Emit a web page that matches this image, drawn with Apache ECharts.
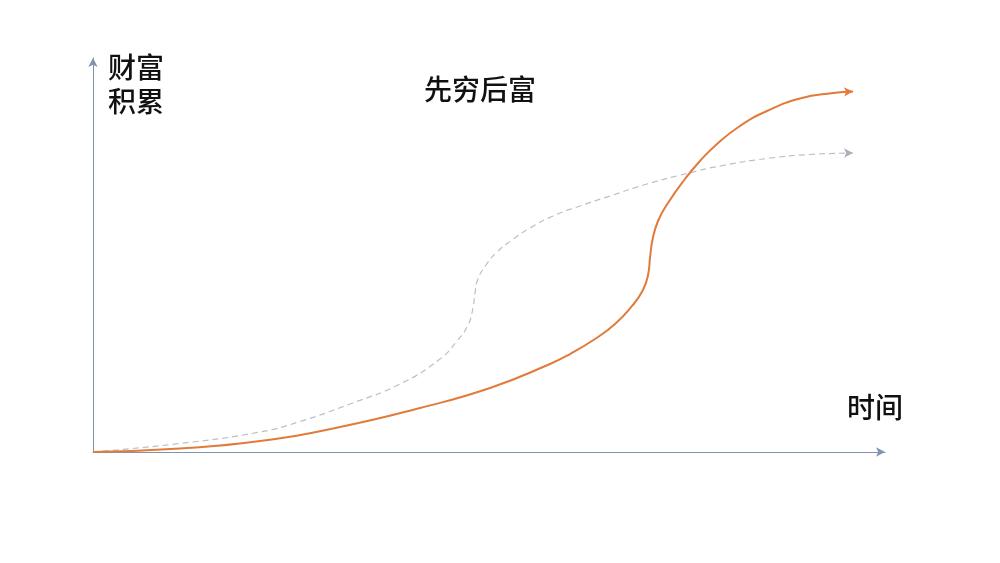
<!DOCTYPE html>
<html>
<head>
<meta charset="utf-8">
<title>先穷后富</title>
<script src="https://cdn.jsdelivr.net/npm/echarts@6/dist/echarts.min.js"></script>
<style>
  html, body { margin: 0; padding: 0; background: #fff; }
  #chart { width: 1000px; height: 563px; }
</style>
</head>
<body>
<div id="chart"></div>
<script>
// 时间（0-100）与财富积累（0-100），从原图读出的大致位置
const poorFirstX = [0, 10.98, 21.09, 31.19, 41.29, 50.13, 57.70, 60.23, 63.38, 65.91, 68.06, 69.44, 70.08, 70.33, 70.64, 71.34, 72.60, 74.75, 76.64, 78.79, 81.69, 85.10, 89.27, 93.43, 95.96]
const poorFirstY = [0, 0.89, 2.79, 6.35, 11.17, 16.24, 22.34, 24.87, 28.68, 32.49, 37.06, 41.12, 44.92, 49.24, 53.81, 58.63, 63.20, 69.29, 73.86, 78.17, 82.74, 86.55, 89.72, 91.12, 91.50]

const steadyX = [0, 10.98, 21.09, 26.14, 32.45, 38.76, 43.81, 45.96, 47.35, 47.98, 48.23, 48.61, 49.62, 51.01, 52.90, 55.18, 58.08, 61.49, 65.28, 69.95, 75.00, 79.17, 85.10, 90.53, 95.96]
const steadyY = [0, 2.16, 5.08, 7.74, 12.18, 17.26, 23.60, 28.17, 32.23, 36.55, 40.36, 43.91, 47.46, 50.76, 53.81, 56.85, 59.90, 62.44, 64.97, 68.02, 70.69, 72.59, 74.49, 75.51, 75.89]

const titleText = '先穷后富'
const yLabel = ['财富', '积累']
const xLabel = '时间'

const axisColor = '#8093ad'
const font = '"Noto Sans CJK SC", sans-serif'

// 组装数据，最后一个点画成箭头
function buildData(xs, ys, rotate) {
  return xs.map((x, i) => {
    if (i === xs.length - 1) {
      return { value: [x, ys[i]], symbol: 'arrow', symbolSize: [7, 9], symbolRotate: rotate }
    }
    return [x, ys[i]]
  })
}

const chart = echarts.init(document.getElementById('chart'))

chart.setOption({
  backgroundColor: '#fff',
  animation: false,
  title: {
    text: titleText,
    left: 475,
    top: 70,
    textAlign: 'center',
    textStyle: { fontFamily: font, fontSize: 28, fontWeight: 500, color: '#111' },
  },
  graphic: [
    {
      type: 'text',
      left: 108,
      top: 50,
      style: { text: yLabel.join('\n'), font: '500 28px ' + font, fill: '#111', lineHeight: 34 },
    },
    {
      type: 'text',
      left: 847,
      top: 393,
      style: { text: xLabel, font: '500 28px ' + font, fill: '#111' },
    },
  ],
  grid: { left: 93, right: 115, top: 58, bottom: 111 },
  xAxis: {
    type: 'value',
    min: 0,
    max: 100,
    axisLine: { show: true, symbol: ['none', 'arrow'], symbolSize: [7, 9], lineStyle: { color: axisColor, width: 1 } },
    axisTick: { show: false },
    axisLabel: { show: false },
    splitLine: { show: false },
  },
  yAxis: {
    type: 'value',
    min: 0,
    max: 100,
    axisLine: { show: true, symbol: ['none', 'arrow'], symbolSize: [7, 9], lineStyle: { color: axisColor, width: 1 } },
    axisTick: { show: false },
    axisLabel: { show: false },
    splitLine: { show: false },
  },
  series: [
    {
      name: '稳步积累',
      type: 'line',
      smooth: 0.5,
      symbol: 'none',
      showSymbol: true,
      data: buildData(steadyX, steadyY, -90),
      lineStyle: { color: '#b9c0ca', width: 1.2, type: [6, 4] },
      itemStyle: { color: '#a9b0bb' },
      z: 2,
    },
    {
      name: '先穷后富',
      type: 'line',
      smooth: 0.5,
      symbol: 'none',
      showSymbol: true,
      data: buildData(poorFirstX, poorFirstY, -88),
      lineStyle: { color: '#e07b3c', width: 2 },
      itemStyle: { color: '#e07b3c' },
      z: 3,
    },
  ],
})
</script>
</body>
</html>
